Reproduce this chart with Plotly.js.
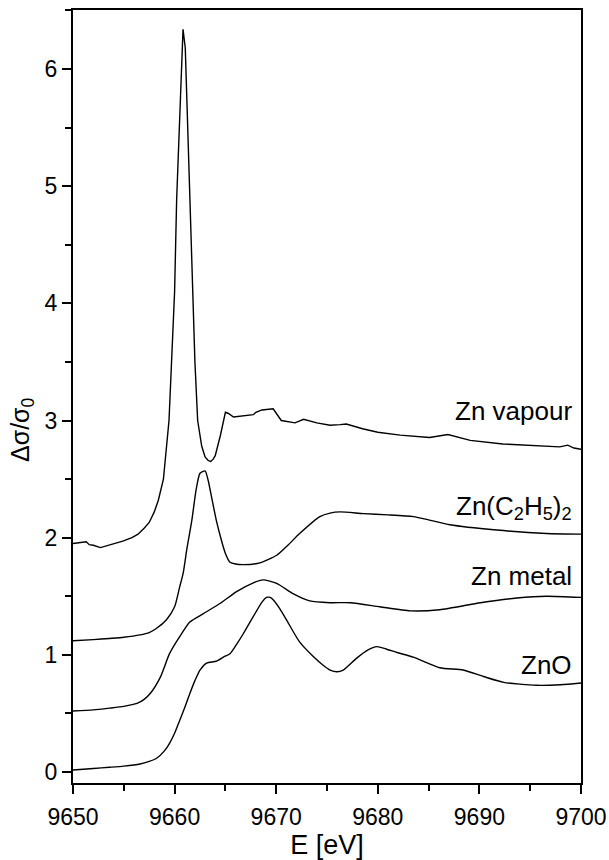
<!DOCTYPE html>
<html>
<head>
<meta charset="utf-8">
<script src="https://cdn.plot.ly/plotly-3.0.1.min.js"></script>
<style>html,body{margin:0;padding:0;background:#fff;}#chart{width:609px;height:860px;}</style>
</head>
<body>
<div id="chart"></div>
<script>
// Zn vapour
const vapourE = [9650.0,9651.0,9651.3,9651.6,9652.0,9652.7,9653.6,9654.9,9655.8,9656.4,9657.0,9657.5,9658.0,9658.4,9658.9,9659.2,9659.45,9659.7,9660.0,9660.2,9660.45,9660.65,9660.83,9661.05,9661.3,9661.5,9661.75,9662.0,9662.27,9662.67,9663.0,9663.3,9663.55,9663.8,9664.0,9664.5,9665.0,9665.3,9665.8,9667.1,9667.75,9668.0,9668.6,9669.7,9670.5,9671.85,9672.7,9674.0,9675.3,9676.3,9676.9,9678.5,9680.0,9682.2,9685.1,9686.9,9689.1,9692.3,9695.0,9697.9,9698.7,9699.3,9700.0];
const vapourY = [1.95,1.96,1.965,1.94,1.935,1.915,1.935,1.97,2.00,2.03,2.08,2.13,2.22,2.32,2.50,2.78,3.0,3.5,4.1,4.88,5.5,6.0,6.34,6.18,5.5,4.88,4.2,3.5,3.0,2.78,2.69,2.66,2.65,2.67,2.70,2.87,3.07,3.06,3.03,3.04,3.05,3.07,3.09,3.10,3.00,2.98,3.01,2.98,2.96,2.965,2.97,2.93,2.90,2.875,2.855,2.88,2.83,2.80,2.79,2.775,2.79,2.765,2.755];
// Zn(C2H5)2
const dezE = [9650,9652,9653.6,9655,9656.6,9657.5,9658.2,9659.2,9660.0,9660.5,9660.85,9661.2,9661.7,9662.1,9662.5,9663.0,9663.3,9663.7,9664.1,9664.6,9665.0,9665.45,9666.0,9666.76,9668.4,9670.05,9671.2,9672.3,9674.3,9675.3,9676.3,9678.6,9681,9683.5,9685.1,9687.1,9691.7,9696.6,9700];
const dezY = [1.12,1.13,1.14,1.15,1.17,1.19,1.225,1.30,1.41,1.58,1.70,1.90,2.15,2.40,2.55,2.57,2.49,2.32,2.15,1.98,1.865,1.79,1.775,1.77,1.785,1.85,1.94,2.035,2.18,2.21,2.22,2.205,2.195,2.18,2.15,2.11,2.065,2.035,2.03];
// Zn metal
const metalE = [9650,9652,9653.6,9655,9656.3,9657.0,9657.6,9658.6,9659.5,9660.5,9661.5,9662.8,9664.5,9666.1,9667.75,9668.7,9670.05,9671.7,9673.3,9675.3,9677.3,9680.2,9683.2,9686.1,9690.1,9693.7,9696.6,9700];
const metalY = [0.52,0.53,0.545,0.56,0.585,0.62,0.67,0.81,1.01,1.155,1.28,1.35,1.44,1.54,1.615,1.64,1.61,1.52,1.46,1.445,1.445,1.41,1.375,1.385,1.445,1.485,1.50,1.49];
// ZnO
const znoE = [9650,9652,9653.6,9655,9656.6,9657.5,9658.2,9659.0,9659.5,9660.0,9660.5,9661.0,9661.5,9662.0,9662.5,9663.15,9664.1,9664.8,9665.45,9666.1,9666.76,9668.1,9668.6,9669.05,9669.4,9669.7,9670.3,9671.0,9672.3,9673.65,9674.5,9675.3,9676.0,9676.6,9677.9,9679.0,9679.9,9680.8,9681.9,9683.5,9686.1,9688.4,9690.4,9692.4,9695.6,9698,9700];
const znoY = [0.017,0.03,0.04,0.05,0.068,0.09,0.115,0.18,0.245,0.33,0.44,0.55,0.67,0.78,0.87,0.93,0.945,0.98,1.01,1.09,1.18,1.38,1.45,1.49,1.49,1.47,1.40,1.30,1.11,0.985,0.92,0.87,0.855,0.87,0.97,1.04,1.07,1.05,1.02,0.98,0.89,0.87,0.815,0.765,0.74,0.745,0.76];

const labels = ["Zn vapour", "Zn(C<sub>2</sub>H<sub>5</sub>)<sub>2</sub>", "Zn metal", "ZnO"];
const labelY = [3.08, 2.26, 1.67, 0.91];
const labelX = 9699.3;
const yTitle = 'Δσ/σ<sub>0</sub>';
const xTitle = 'E [eV]';

const lineStyle = {color: '#000', width: 1.4};
const traces = [
  {x: vapourE, y: vapourY, mode: 'lines', line: Object.assign({shape: 'linear'}, lineStyle)},
  {x: dezE, y: dezY, mode: 'lines', line: Object.assign({shape: 'spline', smoothing: 0.6}, lineStyle)},
  {x: metalE, y: metalY, mode: 'lines', line: Object.assign({shape: 'spline', smoothing: 0.6}, lineStyle)},
  {x: znoE, y: znoY, mode: 'lines', line: Object.assign({shape: 'spline', smoothing: 0.6}, lineStyle)}
];

const fontFam = 'Liberation Sans, Arial, sans-serif';
const plotL = 73, plotR = 581, plotT = 10, plotB = 783;
const annots = labels.map((t, i) => ({
  x: labelX, y: labelY[i], xref: 'x', yref: 'y', text: t,
  showarrow: false, xanchor: 'right', yanchor: 'middle',
  font: {size: 26, family: fontFam, color: '#000'}
}));
annots.push({
  x: (22 - plotL) / (plotR - plotL), y: (plotB - 430) / (plotB - plotT),
  xref: 'paper', yref: 'paper', text: yTitle, textangle: -90,
  showarrow: false, xanchor: 'center', yanchor: 'middle',
  font: {size: 25, family: fontFam, color: '#000'}
});

const layout = {
  width: 609, height: 860,
  margin: {l: 73, r: 28, t: 10, b: 77},
  paper_bgcolor: '#fff', plot_bgcolor: '#fff',
  showlegend: false,
  font: {family: fontFam, color: '#000', size: 23},
  xaxis: {
    range: [9650, 9700], dtick: 10, tick0: 9650,
    showgrid: false, zeroline: false,
    showline: true, mirror: true, linecolor: '#000', linewidth: 2,
    ticks: 'outside', ticklen: 9, tickwidth: 2, tickcolor: '#000',
    ticklabelstandoff: 3,
    minor: {dtick: 5, ticks: 'outside', ticklen: 6, tickwidth: 2, tickcolor: '#000', showgrid: false},
    tickfont: {size: 23, family: fontFam},
    title: {text: xTitle, font: {size: 27, family: fontFam}, standoff: 6}
  },
  yaxis: {
    range: [-0.094, 6.504], dtick: 1, tick0: 0,
    showgrid: false, zeroline: false,
    showline: true, mirror: true, linecolor: '#000', linewidth: 2,
    ticks: 'outside', ticklen: 9, tickwidth: 2, tickcolor: '#000',
    minor: {dtick: 0.5, ticks: 'outside', ticklen: 6, tickwidth: 2, tickcolor: '#000', showgrid: false},
    tickfont: {size: 23, family: fontFam}
  },
  annotations: annots
};

Plotly.newPlot('chart', traces, layout, {displayModeBar: false, staticPlot: true});
</script>
</body>
</html>
